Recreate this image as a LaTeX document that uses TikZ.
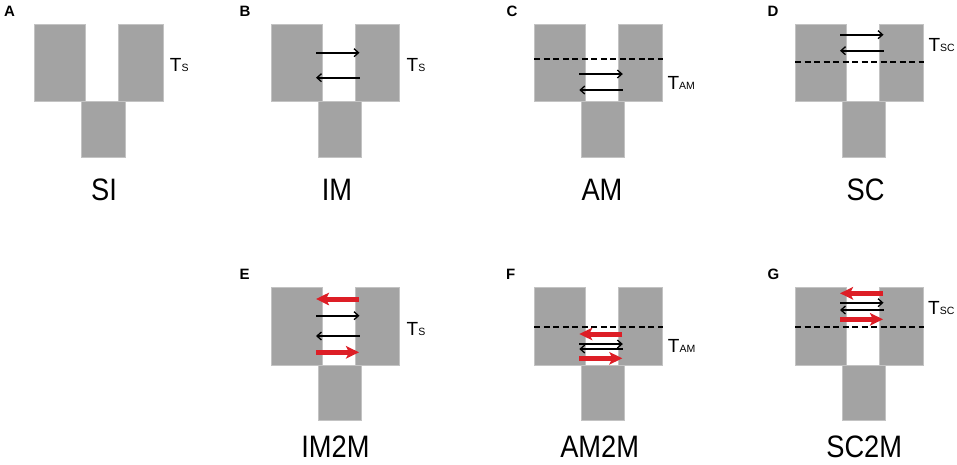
\documentclass[tikz,border=0pt]{standalone}
\usepackage{fontspec}
\setmainfont{Liberation Sans}
\usetikzlibrary{arrows.meta}
\definecolor{blockgray}{RGB}{163,163,163}
\definecolor{blockedge}{RGB}{195,195,195}
\definecolor{arrowred}{RGB}{221,30,38}
\tikzset{
  block/.style={fill=blockgray,draw=blockedge,line width=0.7pt},
  thinarrow/.style={line width=1.8pt,-{Straight Barb[length=4.5pt,width=8pt,line width=1.3pt]}},
  redarrow/.style={arrowred,line width=5pt,-{Stealth[length=13pt,width=12.5pt,inset=3pt]}},
  divline/.style={line width=1.7pt,dash pattern=on 6pt off 3.5pt},
  panelletter/.style={anchor=base west,inner sep=0pt,font=\bfseries\fontsize{15}{16}\selectfont},
  tlabel/.style={anchor=base west,inner sep=0pt,font=\fontsize{19}{20}\selectfont},
  biglabel/.style={anchor=base,inner sep=0pt,font=\fontsize{31}{32}\selectfont}
}
\newcommand{\tsub}[1]{{\fontsize{10.5}{11}\selectfont #1}}
\newcommand{\bigtxt}[1]{\scalebox{0.88}[1]{#1}}
% #1 = x0, #2 = y0
\newcommand{\myblocks}[2]{%
  \draw[block] (#1+47,#2+77.4) rectangle (#1+90.3,#2+133);
  \draw[block] (#1,#2) rectangle (#1+51,#2+77.4);
  \draw[block] (#1+84,#2) rectangle (#1+128.5,#2+77.4);
}
\newcommand{\rarr}[3]{\draw[thinarrow] (#1+45,#2+#3) -- (#1+88.5,#2+#3);}
\newcommand{\larr}[3]{\draw[thinarrow] (#1+88.5,#2+#3) -- (#1+45,#2+#3);}
\newcommand{\rred}[3]{\draw[redarrow] (#1+45,#2+#3) -- (#1+88,#2+#3);}
\newcommand{\lred}[3]{\draw[redarrow] (#1+88,#2+#3) -- (#1+45,#2+#3);}
\newcommand{\myhline}[3]{\draw[divline] (#1,#2+#3) -- (#1+128.5,#2+#3);}
\begin{document}
\begin{tikzpicture}[x=1pt,y=-1pt]
\useasboundingbox[fill=white] (0,0) rectangle (957,464);
% ---------- top row ----------
% A  SI
\myblocks{34.7}{24.3}
\node[panelletter] (lA) at (4,16.7) {A};
\node[tlabel] (tA) at (34.7+135,24.3+47) {T\tsub{S}};
\node[biglabel] (nA) at (104,200) {\bigtxt{SI}};
% B  IM
\myblocks{271}{24.3}
\rarr{271}{24.3}{28.4}
\larr{271}{24.3}{53.4}
\node[panelletter] (lB) at (239.5,16.5) {B};
\node[tlabel] (tB) at (271+135.5,24.3+47) {T\tsub{S}};
\node[biglabel] (nB) at (337,200) {\bigtxt{IM}};
% C  AM
\myblocks{534.3}{24.3}
\myhline{534.3}{24.3}{35}
\rarr{534.3}{24.3}{49.7}
\larr{534.3}{24.3}{65.7}
\node[panelletter] (lC) at (506.5,16.5) {C};
\node[tlabel] (tC) at (534.3+133,24.3+65) {T\tsub{AM}};
\node[biglabel] (nC) at (602,200) {\bigtxt{AM}};
% D  SC
\myblocks{795}{24.3}
\myhline{795}{24.3}{38}
\rarr{795}{24.3}{10.4}
\larr{795}{24.3}{26.4}
\node[panelletter] (lD) at (767.5,16.5) {D};
\node[tlabel] (tD) at (795+133.3,24.3+27.2) {T\tsub{SC}};
\node[biglabel] (nD) at (865.5,200) {\bigtxt{SC}};
% ---------- bottom row ----------
% E  IM2M
\myblocks{271}{287.7}
\lred{271}{287.7}{11.3}
\rarr{271}{287.7}{28}
\larr{271}{287.7}{48.3}
\rred{271}{287.7}{64.6}
\node[panelletter] (lE) at (239.5,279.3) {E};
\node[tlabel] (tE) at (271+135.5,287.7+47.3) {T\tsub{S}};
\node[biglabel] (nE) at (335.5,457.3) {\bigtxt{IM2M}};
% F  AM2M
\myblocks{534.3}{287.7}
\myhline{534.3}{287.7}{39.6}
\lred{534.3}{287.7}{46.3}
\rarr{534.3}{287.7}{56.3}
\larr{534.3}{287.7}{61.3}
\rred{534.3}{287.7}{70.6}
\node[panelletter] (lF) at (506,279.5) {F};
\node[tlabel] (tF) at (534.3+133.4,287.7+65) {T\tsub{AM}};
\node[biglabel] (nF) at (599.7,457.3) {\bigtxt{AM2M}};
% G  SC2M
\myblocks{795}{287.7}
\myhline{795}{287.7}{39.6}
\lred{795}{287.7}{5.6}
\rarr{795}{287.7}{15}
\larr{795}{287.7}{22.3}
\rred{795}{287.7}{31.6}
\node[panelletter] (lG) at (767.5,279.5) {G};
\node[tlabel] (tG) at (795+133,287.7+26.6) {T\tsub{SC}};
\node[biglabel] (nG) at (864.2,457.3) {\bigtxt{SC2M}};
\end{tikzpicture}
\end{document}
